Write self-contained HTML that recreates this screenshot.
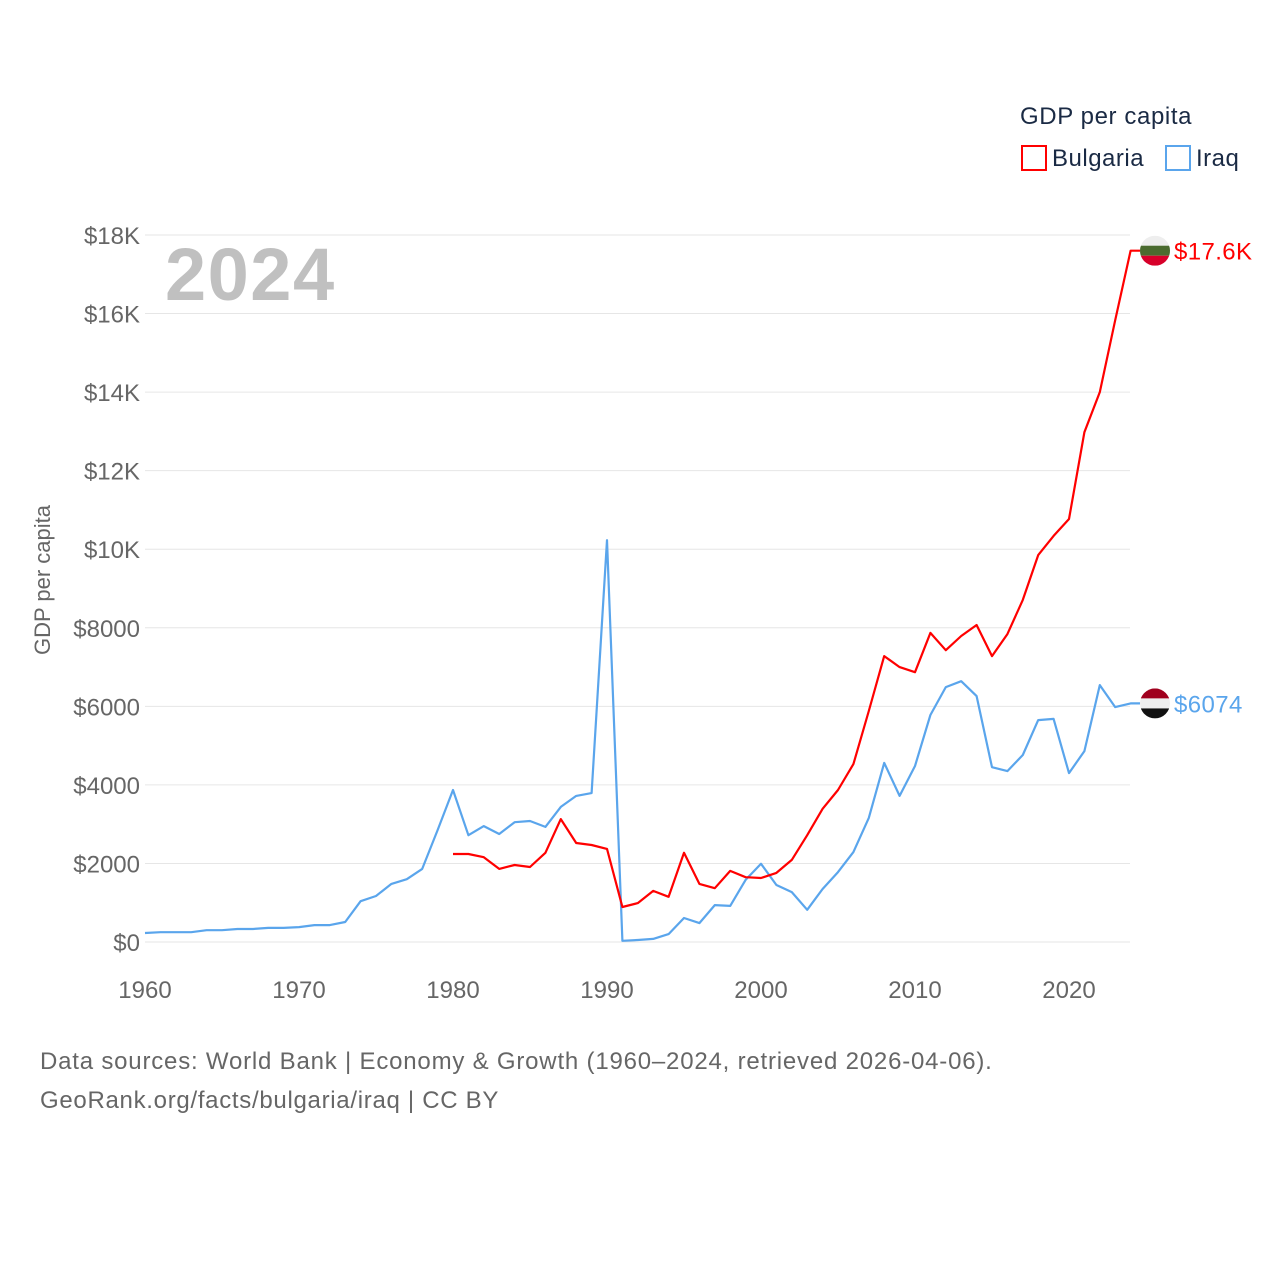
<!DOCTYPE html>
<html><head><meta charset="utf-8"><style>
body{margin:0;background:#fff;font-family:"Liberation Sans",sans-serif}
svg text{font-family:"Liberation Sans",sans-serif}
</style></head><body>
<svg id="chart" width="1280" height="1280">
<g id="grid"></g>
<g id="yticks"></g>
<g id="xticks"></g>
<text x="165" y="300" font-size="74" font-weight="bold" fill="#c0c0c0" letter-spacing="1.5">2024</text>
<text transform="translate(50,580) rotate(-90)" text-anchor="middle" font-size="22" fill="#666">GDP per capita</text>
<g>
<text x="1020" y="124" font-size="24" fill="#1a2a44" letter-spacing="0.6">GDP per capita</text>
<g><rect x="1022" y="146" width="24" height="24" fill="none" stroke="#f00" stroke-width="2"/><text x="1052" y="166" font-size="24" fill="#1a2a44" letter-spacing="0.5">Bulgaria</text></g>
<g><rect x="1166" y="146" width="24" height="24" fill="none" stroke="#5aa5ec" stroke-width="2"/><text x="1196" y="166" font-size="24" fill="#1a2a44" letter-spacing="0.5">Iraq</text></g>
</g>
<g id="series"></g>
<text x="40" y="1069" font-size="24" fill="#666" letter-spacing="0.8">Data sources: World Bank | Economy &amp; Growth (1960–2024, retrieved 2026-04-06).</text>
<text x="40" y="1108" font-size="24" fill="#666" letter-spacing="0.7">GeoRank.org/facts/bulgaria/iraq | CC BY</text>
</svg>
<script>
const iraqYears=[];for(let y=1960;y<=2024;y++)iraqYears.push(y);
const iraqValues=[230,250,250,250,300,300,330,330,360,360,380,430,430,510,1040,1170,1480,1600,1860,2850,3870,2720,2950,2750,3050,3080,2930,3440,3720,3790,10230,30,50,80,200,610,480,940,920,1580,1990,1450,1270,820,1350,1780,2290,3160,4560,3720,4480,5780,6490,6640,6260,4450,4350,4760,5650,5680,4300,4860,6540,5980,6074];
const bulYears=[];for(let y=1980;y<=2024;y++)bulYears.push(y);
const bulValues=[2240,2240,2160,1860,1960,1910,2270,3130,2520,2470,2370,890,990,1300,1150,2270,1480,1370,1810,1650,1630,1760,2090,2720,3390,3870,4530,5880,7280,7000,6870,7870,7430,7790,8070,7280,7840,8710,9850,10340,10770,12980,14000,15830,17600];
const yTicks=[0,2000,4000,6000,8000,10000,12000,14000,16000,18000];
const yTickLabels=["$0","$2000","$4000","$6000","$8000","$10K","$12K","$14K","$16K","$18K"];
const xTicks=[1960,1970,1980,1990,2000,2010,2020];
const NS="http://www.w3.org/2000/svg";
const xs=y=>145+(y-1960)*15.4;
const ys=v=>942-v*707/18000;
function mk(tag,attrs,parent){const e=document.createElementNS(NS,tag);for(const k in attrs)e.setAttribute(k,attrs[k]);parent.appendChild(e);return e;}
const grid=document.getElementById('grid'),yt=document.getElementById('yticks'),xt=document.getElementById('xticks'),ser=document.getElementById('series');
yTicks.forEach((v,i)=>{
 const l=mk('line',{x1:145,x2:1130,y1:ys(v),y2:ys(v),stroke:'#e6e6e6','stroke-width':1},grid);
 
 
 const t=mk('text',{x:140,y:ys(v)+9,'text-anchor':'end','font-size':24,fill:'#666'},yt);
 t.textContent=yTickLabels[i];
 
 
});
xTicks.forEach(y=>{
 const t=mk('text',{x:xs(y),y:998,'text-anchor':'middle','font-size':24,fill:'#666'},xt);
 t.textContent=y;
 
 
});
function line(years,vals,color,name){
 let d=years.map((y,i)=>(i?'L':'M')+xs(y).toFixed(1)+','+ys(vals[i]).toFixed(1)).join(' ');
 d+=' L1140,'+ys(vals[vals.length-1]).toFixed(1);
 const p=mk('path',{d:d,fill:'none',stroke:color,'stroke-width':2.2,'stroke-linejoin':'round'},ser);
 
 
}
line(iraqYears,iraqValues,'#5aa5ec','iraq-line');
line(bulYears,bulValues,'#ff0000','bulgaria-line');
function flag(v,colors,name,label,lc){
 const cy=ys(v),cx=1155;
 const g=mk('g',{},ser);
 
 
 const id='c'+name;
 const cp=mk('clipPath',{id:id},g);mk('circle',{cx:cx,cy:cy,r:15},cp);
 colors.forEach((c,i)=>mk('rect',{x:cx-15,y:cy-15+i*10,width:30,height:10,fill:c,'clip-path':'url(#'+id+')'},g));
 const t=mk('text',{x:1174,y:cy+9,'font-size':24,fill:lc,'letter-spacing':0.4},g);t.textContent=label;
}
flag(bulValues[bulValues.length-1],['#eeeeee','#4a6b2f','#d7002a'],'bulgaria-flag','$17.6K','#ff0000');
flag(iraqValues[iraqValues.length-1],['#a0001e','#eeeeee','#111111'],'iraq-flag','$6074','#5aa5ec');
</script>
</body></html>
